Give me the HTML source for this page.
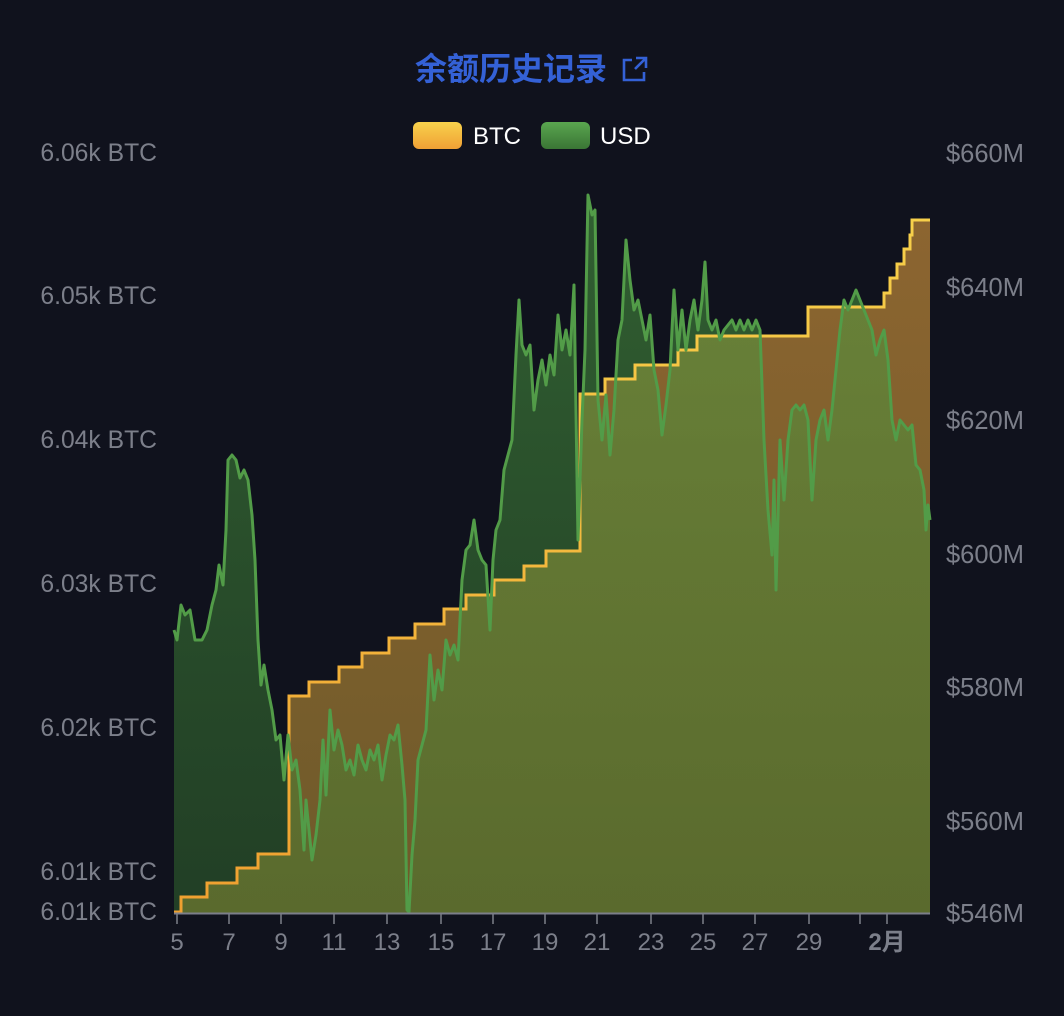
<!DOCTYPE html>
<html><head><meta charset="utf-8"><style>
body{margin:0;background:#10121d;width:1064px;height:1016px;overflow:hidden;font-family:"Liberation Sans","Noto Sans CJK SC",sans-serif}
</style></head><body>
<svg width="1064" height="1016" xmlns="http://www.w3.org/2000/svg" style="position:absolute;left:0;top:0">
<defs>
<linearGradient id="og" x1="0" x2="0" gradientUnits="userSpaceOnUse" y1="220" y2="913">
<stop offset="0" stop-color="#8c6530"/><stop offset="1" stop-color="#6e5a2a"/></linearGradient>
<linearGradient id="gg" x1="0" x2="0" gradientUnits="userSpaceOnUse" y1="195" y2="913">
<stop offset="0" stop-color="rgb(76,158,66)" stop-opacity="0.55"/><stop offset="1" stop-color="rgb(60,130,50)" stop-opacity="0.4"/></linearGradient>
<linearGradient id="bl" x1="0" x2="0" gradientUnits="userSpaceOnUse" y1="220" y2="913">
<stop offset="0" stop-color="#f7d04a"/><stop offset="1" stop-color="#f0a030"/></linearGradient>
<linearGradient id="lb" x1="0" y1="0" x2="0" y2="1"><stop offset="0" stop-color="#f8d24c"/><stop offset="1" stop-color="#f0a035"/></linearGradient>
<linearGradient id="lg" x1="0" y1="0" x2="0" y2="1"><stop offset="0" stop-color="#5aa650"/><stop offset="1" stop-color="#3a7535"/></linearGradient>
</defs>
<text x="511" y="80" text-anchor="middle" font-size="32" font-weight="bold" fill="#3461d6">余额历史记录</text>
<g stroke="#3461d6" stroke-width="2.6" fill="none"><path d="M632 60h-8v20h20v-8"/><path d="M636 58h10v10M646 58l-11 11"/></g>
<rect x="413" y="122" width="49" height="27" rx="6" fill="url(#lb)"/>
<text x="473" y="144" font-size="24" fill="#fff">BTC</text>
<rect x="541" y="122" width="49" height="27" rx="6" fill="url(#lg)"/>
<text x="600" y="144" font-size="24" fill="#fff">USD</text>
<g font-size="24.7" fill="#7c7f8a" text-anchor="end">
<text x="157" y="161">6.06k BTC</text><text x="157" y="304">6.05k BTC</text><text x="157" y="448">6.04k BTC</text><text x="157" y="592">6.03k BTC</text><text x="157" y="736">6.02k BTC</text><text x="157" y="880">6.01k BTC</text><text x="157" y="920">6.01k BTC</text></g>
<g font-size="25.5" fill="#7c7f8a">
<text x="946" y="162">$660M</text><text x="946" y="296">$640M</text><text x="946" y="429">$620M</text><text x="946" y="563">$600M</text><text x="946" y="696">$580M</text><text x="946" y="830">$560M</text><text x="946" y="922">$546M</text></g>
<path id="btc" d="M174 912H181V897H207V883H237V868H258V854H289V696H309V682H339V667H362V653H389V638H415V624H444V609H466V595H494V580H524V566H546V551H580V394H605V379H635V365H678V350H697V336H808V307H884V293H890V278H897V264H904V249H910V235H912V220H930" fill="none"/>
<path d="M174 913V912H181V897H207V883H237V868H258V854H289V696H309V682H339V667H362V653H389V638H415V624H444V609H466V595H494V580H524V566H546V551H580V394H605V379H635V365H678V350H697V336H808V307H884V293H890V278H897V264H904V249H910V235H912V220H930V913Z" fill="url(#og)"/>
<path d="M174,913 L174,630 177,640 181,605 185,615 190,610 195,640 202,640 207,630 212,605 216,590 219,565 223,585 226,530 228,460 232,455 236,460 240,478 244,470 248,480 252,515 255,560 258,640 261,685 264,665 268,690 272,710 276,740 280,735 284,780 288,735 292,770 296,760 300,790 304,850 306,800 309,830 312,860 316,835 320,800 323,740 326,795 330,710 334,750 338,730 342,745 346,770 350,760 354,775 358,745 362,760 366,770 370,750 374,760 378,745 382,780 386,755 390,735 394,740 398,725 402,765 405,800 407,910 409,912 412,855 415,820 418,760 422,745 426,730 430,655 434,700 438,670 442,690 446,640 450,655 454,645 458,660 462,580 466,550 470,545 474,520 478,550 482,560 486,565 490,630 493,560 496,530 500,520 504,470 508,455 512,440 516,355 519,300 522,345 526,355 530,345 534,410 538,380 542,360 546,385 550,355 554,375 558,315 562,350 566,330 570,355 574,285 578,540 582,420 585,350 588,195 592,215 595,210 598,400 602,440 606,395 610,455 614,410 618,340 622,320 626,240 630,280 634,310 638,300 642,320 646,340 650,315 654,370 658,390 662,435 666,405 670,370 674,290 678,350 682,310 686,350 690,320 694,300 698,330 702,300 705,262 708,320 712,330 716,320 720,340 724,330 728,325 732,320 736,330 740,320 744,330 748,320 752,330 756,320 760,330 764,440 768,510 772,555 774,480 776,590 780,440 784,500 788,440 792,410 796,405 800,410 804,405 808,420 812,500 816,440 820,420 824,410 828,440 832,410 836,370 840,330 844,300 848,310 852,300 856,290 860,300 864,310 868,320 872,330 876,355 880,340 884,330 888,360 892,420 896,440 900,420 904,425 908,430 912,425 916,465 920,470 924,490 926,530 928,505 930,520 L930,913 Z" fill="url(#gg)"/>
<use href="#btc" stroke="url(#bl)" stroke-width="3"/>
<path d="M174,630 177,640 181,605 185,615 190,610 195,640 202,640 207,630 212,605 216,590 219,565 223,585 226,530 228,460 232,455 236,460 240,478 244,470 248,480 252,515 255,560 258,640 261,685 264,665 268,690 272,710 276,740 280,735 284,780 288,735 292,770 296,760 300,790 304,850 306,800 309,830 312,860 316,835 320,800 323,740 326,795 330,710 334,750 338,730 342,745 346,770 350,760 354,775 358,745 362,760 366,770 370,750 374,760 378,745 382,780 386,755 390,735 394,740 398,725 402,765 405,800 407,910 409,912 412,855 415,820 418,760 422,745 426,730 430,655 434,700 438,670 442,690 446,640 450,655 454,645 458,660 462,580 466,550 470,545 474,520 478,550 482,560 486,565 490,630 493,560 496,530 500,520 504,470 508,455 512,440 516,355 519,300 522,345 526,355 530,345 534,410 538,380 542,360 546,385 550,355 554,375 558,315 562,350 566,330 570,355 574,285 578,540 582,420 585,350 588,195 592,215 595,210 598,400 602,440 606,395 610,455 614,410 618,340 622,320 626,240 630,280 634,310 638,300 642,320 646,340 650,315 654,370 658,390 662,435 666,405 670,370 674,290 678,350 682,310 686,350 690,320 694,300 698,330 702,300 705,262 708,320 712,330 716,320 720,340 724,330 728,325 732,320 736,330 740,320 744,330 748,320 752,330 756,320 760,330 764,440 768,510 772,555 774,480 776,590 780,440 784,500 788,440 792,410 796,405 800,410 804,405 808,420 812,500 816,440 820,420 824,410 828,440 832,410 836,370 840,330 844,300 848,310 852,300 856,290 860,300 864,310 868,320 872,330 876,355 880,340 884,330 888,360 892,420 896,440 900,420 904,425 908,430 912,425 916,465 920,470 924,490 926,530 928,505 930,520" fill="none" stroke="#529c48" stroke-width="3" stroke-linejoin="round"/>
<line x1="174" y1="913.5" x2="930" y2="913.5" stroke="#7c7f8a" stroke-width="2"/>
<g stroke="#7c7f8a" stroke-width="1.5">
<line x1="177" y1="913" x2="177" y2="924"/><line x1="229" y1="913" x2="229" y2="924"/><line x1="281" y1="913" x2="281" y2="924"/><line x1="334" y1="913" x2="334" y2="924"/><line x1="387" y1="913" x2="387" y2="924"/><line x1="441" y1="913" x2="441" y2="924"/><line x1="493" y1="913" x2="493" y2="924"/><line x1="545" y1="913" x2="545" y2="924"/><line x1="597" y1="913" x2="597" y2="924"/><line x1="651" y1="913" x2="651" y2="924"/><line x1="703" y1="913" x2="703" y2="924"/><line x1="755" y1="913" x2="755" y2="924"/><line x1="809" y1="913" x2="809" y2="924"/><line x1="860" y1="913" x2="860" y2="924"/><line x1="887" y1="913" x2="887" y2="924"/></g>
<g font-size="24" fill="#7c7f8a" text-anchor="middle">
<text x="177" y="950">5</text><text x="229" y="950">7</text><text x="281" y="950">9</text><text x="334" y="950">11</text><text x="387" y="950">13</text><text x="441" y="950">15</text><text x="493" y="950">17</text><text x="545" y="950">19</text><text x="597" y="950">21</text><text x="651" y="950">23</text><text x="703" y="950">25</text><text x="755" y="950">27</text><text x="809" y="950">29</text><text x="887" y="950" font-weight="bold">2月</text></g>
</svg>
</body></html>
